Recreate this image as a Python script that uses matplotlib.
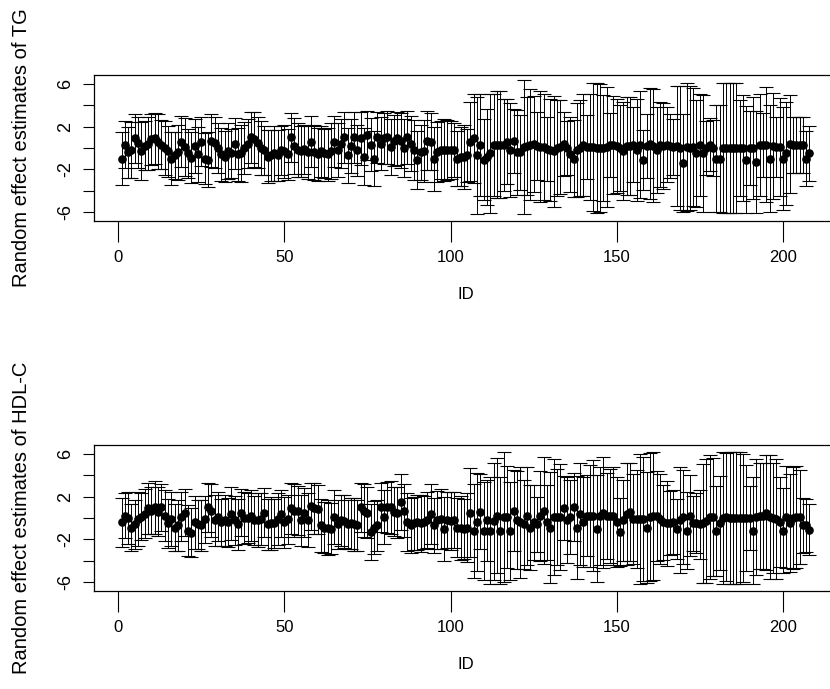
import numpy as np
import matplotlib
matplotlib.use("Agg")
import matplotlib.pyplot as plt

plt.rcParams['font.family'] = ['Liberation Sans', 'DejaVu Sans']

# random effect estimates of TG, ID 1..208
tg_est = [
    -1.0, 0.3, -0.4, -0.2, 0.9, 0.5, -0.3, 0.2, 0.4, 0.8,
    0.9, 0.6, 0.3, 0.0, -0.3, -1.0, -0.7, -0.4, 0.6, 0.1,
    -0.5, -0.9, 0.2, -0.6, 0.6, -1.0, -1.1, 0.7, 0.5, 0.0,
    -0.6, -0.8, -0.3, -0.5, 0.4, -0.6, -0.5, 0.0, 0.4, 1.0,
    0.8, 0.5, 0.0, -0.2, -0.8, -0.7, -0.5, -0.7, -0.2, -0.3,
    -0.6, 1.0, 0.2, -0.2, -0.3, -0.1, -0.4, 0.6, -0.4, -0.6,
    -0.3, -0.5, -0.6, -0.3, 0.6, -0.2, 0.4, 1.0, -0.7, 0.2,
    1.0, -0.2, 0.9, -0.8, 1.2, 0.3, -1.0, 1.0, 0.4, 0.9,
    1.0, 0.1, 0.7, 0.9, 0.7, 0.0, 1.0, 0.4, -0.2, -1.1,
    -0.4, -0.3, 0.7, 0.6, -1.0, -0.4, -0.2, -0.2, -0.2, -0.2,
    -0.2, -1.0, -0.8, -0.8, -0.7, 0.6, 0.9, -0.7, 0.3, -1.1,
    -0.8, -0.5, 0.3, 0.3, 0.3, 0.3, 0.6, -0.2, 0.7, -0.4,
    -0.4, 0.1, 0.2, 0.3, 0.4, 0.2, 0.1, 0.1, -0.1, -0.2,
    -0.3, 0.0, 0.1, 0.4, 0.0, -0.6, -1.0, -0.2, 0.0, 0.3,
    0.1, 0.1, 0.1, 0.0, 0.0, 0.0, 0.1, 0.3, 0.3, 0.2,
    0.0, -0.3, 0.2, 0.2, 0.3, -0.2, 0.3, -1.1, 0.2, 0.4,
    0.2, -0.2, 0.3, 0.2, 0.3, 0.2, 0.1, 0.2, 0.0, -1.4,
    0.1, 0.0, 0.1, -0.5, 0.3, -0.5, 0.0, 0.3, 0.0, -1.0,
    -1.0, 0.0, 0.0, 0.0, 0.0, 0.0, 0.0, 0.0, -1.1, 0.0,
    0.0, -1.3, 0.3, 0.3, 0.3, -1.0, 0.2, 0.1, 0.1, -1.0,
    -0.5, 0.4, 0.3, 0.3, 0.3, 0.3, -1.0, -0.5,
]

# half width of the interval for TG
tg_hw = [
    2.5, 2.2, 2.4, 2.6, 2.3, 2.4, 2.7, 2.3, 2.5, 2.4,
    2.4, 2.6, 2.3, 2.5, 2.4, 2.5, 2.2, 2.6, 2.4, 2.7,
    2.3, 2.4, 2.5, 2.6, 2.3, 2.4, 2.6, 2.5, 2.4, 2.3,
    2.5, 2.4, 2.6, 2.3, 2.4, 2.5, 2.7, 2.4, 2.3, 2.4,
    2.6, 2.4, 2.5, 2.3, 2.5, 2.4, 2.6, 2.4, 2.3, 2.5,
    2.4, 2.3, 2.6, 2.5, 2.4, 2.3, 2.5, 2.4, 2.6, 2.5,
    2.4, 2.3, 2.5, 2.6, 2.4, 2.5, 2.3, 2.4, 2.6, 2.5,
    2.4, 2.4, 2.5, 2.7, 2.3, 2.5, 2.6, 2.4, 2.5, 2.4,
    2.5, 2.6, 2.4, 2.5, 2.6, 2.7, 2.5, 2.6, 2.8, 2.7,
    2.6, 2.9, 2.8, 2.7, 3.0, 2.8, 2.7, 2.9, 2.8, 2.7,
    2.5, 2.6, 2.8, 3.0, 2.5, 3.7, 4.2, 5.5, 4.8, 3.8,
    4.5, 5.6, 4.8, 5.0, 5.0, 4.3, 4.0, 4.4, 3.0, 4.0,
    3.5, 6.3, 4.6, 5.2, 4.5, 3.2, 5.2, 5.0, 3.0, 4.8,
    5.2, 4.5, 4.4, 3.0, 2.5, 3.5, 3.6, 4.4, 4.5, 4.8,
    3.0, 5.0, 6.0, 6.1, 6.0, 5.0, 5.6, 3.0, 4.6, 4.4,
    4.0, 4.6, 4.6, 4.6, 3.5, 4.8, 5.0, 2.8, 3.0, 5.2,
    5.3, 4.0, 4.0, 4.0, 3.5, 3.0, 2.6, 5.6, 5.8, 4.6,
    6.0, 5.8, 5.5, 5.0, 4.8, 5.5, 2.5, 2.5, 2.6, 5.0,
    5.0, 6.1, 6.1, 6.1, 6.1, 6.1, 4.5, 5.0, 5.0, 3.5,
    4.8, 4.8, 4.8, 3.0, 5.4, 5.0, 5.0, 2.8, 4.6, 4.8,
    4.8, 4.6, 2.6, 2.6, 2.6, 2.6, 2.6, 2.6,
]

# random effect estimates of HDL-C
hdl_est = [
    -0.4, 0.2, 0.0, -0.9, -0.6, -0.1, 0.1, 0.4, 0.9, 0.7,
    1.0, 0.6, 1.0, 0.2, -0.5, -0.1, -0.9, -0.7, 0.1, 0.5,
    -1.2, -1.4, -0.4, -0.6, -0.7, -0.1, 1.0, 0.7, -0.2, 0.1,
    -0.4, -0.2, -0.4, 0.4, -0.2, -0.6, 0.5, 0.0, 0.0, 0.2,
    -0.2, -0.2, -0.1, 0.5, -0.6, -0.5, -0.5, -0.1, 0.4, -0.4,
    -0.1, 0.9, 0.7, 0.7, -0.2, 0.5, -0.2, 1.1, 0.9, 0.8,
    -0.7, -0.9, -0.9, -1.0, 0.1, -0.6, -0.2, -0.3, -0.6, -0.5,
    -0.6, -0.7, 1.0, 0.7, 0.5, -1.3, -0.9, -0.7, 1.0, 0.1,
    1.0, 1.0, 0.6, 0.5, 1.5, 0.7, -0.4, -0.7, -0.5, -0.4,
    -0.5, -0.4, -0.2, 0.4, -0.7, -0.2, -0.1, -1.0, -0.2, -0.3,
    -0.2, -0.9, -0.9, -1.0, -0.9, 0.5, -1.2, -0.4, 0.6, -1.2,
    -0.2, -1.2, -0.3, 0.2, -1.2, 0.1, 0.1, -1.2, 0.7, -0.2,
    -0.4, -0.6, 0.2, -0.9, -0.4, -0.6, 0.2, 0.7, -0.4, -0.9,
    0.1, 0.1, 0.1, 0.9, -0.2, 0.1, 1.0, -0.9, 0.4, -0.4,
    0.2, 0.2, 0.2, -1.0, 0.2, 0.5, 0.2, 0.2, 0.2, -0.4,
    -1.3, -0.2, 0.4, 0.6, -0.1, -0.1, -0.1, -0.1, -0.9, 0.1,
    0.2, 0.2, -0.1, -0.4, -0.5, -0.5, -0.4, -1.0, -0.2, 0.1,
    -1.2, 0.2, -0.5, -0.5, -0.6, -0.5, -0.3, 0.1, 0.1, -1.2,
    -0.5, 0.0, 0.1, 0.0, 0.0, 0.0, 0.0, 0.0, 0.0, 0.0,
    -1.2, 0.1, 0.2, 0.2, 0.5, 0.1, 0.0, -0.1, -0.4, -1.2,
    0.1, -0.5, 0.0, 0.1, 0.1, -0.7, -0.7, -1.1,
]

hdl_hw = [
    2.3, 2.1, 2.4, 2.2, 2.3, 2.5, 2.2, 2.3, 2.4, 2.2,
    2.5, 2.3, 2.2, 2.4, 2.3, 2.5, 2.2, 2.4, 2.3, 2.2,
    2.4, 2.3, 2.5, 2.3, 2.4, 2.2, 2.3, 2.5, 2.4, 2.3,
    2.2, 2.4, 2.3, 2.5, 2.3, 2.4, 2.2, 2.4, 2.3, 2.4,
    2.3, 2.5, 2.4, 2.3, 2.4, 2.5, 2.3, 2.4, 2.2, 2.4,
    2.3, 2.4, 2.5, 2.3, 2.4, 2.3, 2.5, 2.2, 2.4, 2.3,
    2.5, 2.4, 2.6, 2.4, 2.5, 2.3, 2.4, 2.5, 2.3, 2.4,
    2.5, 2.4, 2.3, 2.5, 2.4, 2.6, 2.5, 2.4, 2.3, 2.5,
    2.4, 2.5, 2.3, 2.4, 2.6, 2.5, 2.7, 2.6, 2.5, 2.6,
    2.7, 2.5, 2.6, 2.8, 2.6, 2.7, 2.8, 3.0, 2.6, 2.7,
    2.6, 2.8, 3.0, 2.8, 3.2, 4.2, 4.4, 4.6, 3.5, 4.6,
    3.8, 5.0, 5.5, 5.4, 5.0, 6.1, 4.8, 4.6, 3.8, 4.6,
    5.2, 4.2, 4.6, 4.0, 3.5, 2.6, 4.2, 5.0, 3.5, 5.2,
    5.4, 4.5, 5.0, 3.0, 4.0, 3.5, 3.2, 4.8, 4.8, 4.2,
    3.8, 4.8, 5.2, 5.0, 4.6, 5.2, 4.0, 4.4, 4.6, 4.2,
    3.2, 3.8, 4.8, 4.6, 4.2, 4.6, 6.1, 5.8, 5.2, 6.0,
    6.0, 4.2, 4.2, 3.5, 4.0, 3.0, 3.0, 2.8, 5.0, 4.4,
    3.6, 3.8, 2.6, 2.8, 3.2, 5.6, 5.8, 5.8, 5.5, 4.2,
    4.4, 6.2, 6.0, 6.2, 6.2, 6.2, 6.2, 6.0, 5.0, 3.0,
    5.0, 5.4, 5.0, 5.0, 5.4, 5.8, 5.2, 5.6, 4.2, 4.0,
    4.8, 4.6, 4.8, 4.8, 4.4, 2.6, 2.5, 2.4,
]

x_ticks = [0, 50, 100, 150, 200]
y_ticks = [-6, -4, -2, 0, 2, 4, 6]
y_labels = ['-6', '', '-2', '', '2', '', '6']


def draw_panel(ax, est, hw, ylab):
    ids = np.arange(1, len(est) + 1)
    ax.errorbar(ids, est, yerr=hw, fmt='o', color='black', ms=5.2,
                elinewidth=0.7, capsize=4.8, capthick=0.8)
    ax.set_xlim(-7.28, 216.28)
    ax.set_ylim(-6.84, 6.84)
    ax.set_xticks(x_ticks)
    ax.set_xticklabels([str(t) for t in x_ticks], fontsize=12)
    ax.set_yticks(y_ticks)
    ax.set_yticklabels(y_labels, fontsize=13, rotation=90, va='center')
    ax.tick_params(axis='x', length=15, width=0.8, pad=6)
    ax.tick_params(axis='y', length=8, width=0.8, pad=6)
    for s in ax.spines.values():
        s.set_linewidth(0.9)
    ax.set_xlabel('ID', fontsize=12, labelpad=16)
    ax.set_ylabel(ylab, fontsize=14.5, labelpad=19)


fig = plt.figure(figsize=(8.30, 6.89), dpi=100)
ax1 = fig.add_axes([94 / 830, 1 - 221 / 689, 743 / 830, 146 / 689])
ax2 = fig.add_axes([94 / 830, 1 - 591 / 689, 743 / 830, 146 / 689])

draw_panel(ax1, tg_est, tg_hw, 'Random effect estimates of TG')
draw_panel(ax2, hdl_est, hdl_hw, 'Random effect estimates of HDL-C')

fig.savefig('out.png', dpi=100)
